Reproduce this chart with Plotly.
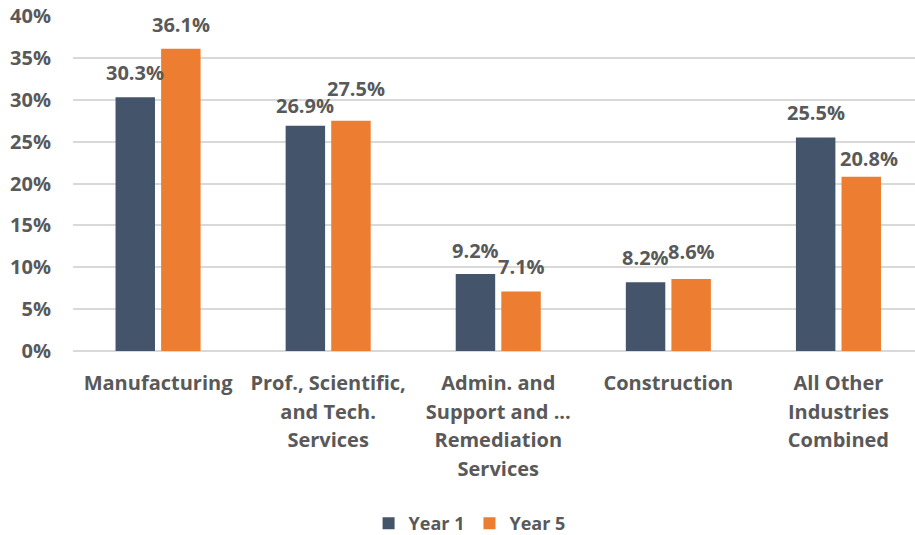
import plotly.graph_objects as go

categories = [
    "Manufacturing",
    "Prof., Scientific,<br>and Tech.<br>Services",
    "Admin. and<br>Support and ...<br>Remediation<br>Services",
    "Construction",
    "All Other<br>Industries<br>Combined",
]
year1 = [30.3, 26.9, 9.2, 8.2, 25.5]
year5 = [36.1, 27.5, 7.1, 8.6, 20.8]
y_ticks = [0, 5, 10, 15, 20, 25, 30, 35, 40]

# label nudges (pixels) mimicking the reference's label placement
label_dx1 = [0, 0, 0, 0, 0]
label_dx5 = [0, 5, 0, 0, 8]
label_gap1 = [17, 13, 16, 17, 17]
label_gap5 = [17, 25, 18, 20, 11]

FONT = "Open Sans"
GRAY = "#595959"
BLUE = "#44546A"
ORANGE = "#ED7D31"

BAR_W = 0.232
OFFSETS = [-0.25, 0.018]

xpos = list(range(len(categories)))


def styled(label, size):
    return "<br>".join(
        f'<span style="font-size:{size}px">{part}</span>' for part in label.split("<br>")
    )


fig = go.Figure()
series = [
    ("Year 1", year1, BLUE, OFFSETS[0], label_dx1, label_gap1),
    ("Year 5", year5, ORANGE, OFFSETS[1], label_dx5, label_gap5),
]
for name, vals, color, off, dxs, gaps in series:
    fig.add_trace(
        go.Bar(
            x=xpos,
            y=vals,
            name=name,
            width=BAR_W,
            offset=off,
            marker=dict(color=color, line=dict(width=0)),
        )
    )
    for xi, v, dx, gap in zip(xpos, vals, dxs, gaps):
        fig.add_annotation(
            x=xi + off + BAR_W / 2,
            y=v,
            xref="x",
            yref="y",
            text=f"{v:.1f}%",
            showarrow=False,
            xanchor="center",
            yanchor="bottom",
            xshift=dx,
            yshift=gap - 8,
            font=dict(family=FONT, size=20, color=GRAY, weight="bold"),
        )

fig.update_layout(
    width=915,
    height=535,
    margin=dict(l=73, r=0, t=16, b=184, autoexpand=False),
    paper_bgcolor="white",
    plot_bgcolor="white",
    barmode="overlay",
    hovermode=False,
    font=dict(family=FONT, color=GRAY, weight="bold"),
    showlegend=True,
    legend=dict(
        orientation="h",
        x=0.471,
        xanchor="center",
        y=-0.515,
        yanchor="middle",
        font=dict(family=FONT, size=18, color=GRAY, weight="bold"),
        itemwidth=30,
        traceorder="normal",
    ),
    xaxis=dict(
        range=[-0.5, 4.45],
        tickvals=xpos,
        ticktext=[styled(c, 20) for c in categories],
        tickfont=dict(family=FONT, size=22, color=GRAY, weight="bold"),
        showgrid=False,
        zeroline=False,
        showline=False,
        ticks="",
        ticklabelstandoff=16,
        automargin=False,
    ),
    yaxis=dict(
        range=[0, 40],
        tickvals=y_ticks,
        ticktext=[f"{t}%" for t in y_ticks],
        tickfont=dict(family=FONT, size=20, color=GRAY, weight="bold"),
        showgrid=True,
        gridcolor="#D9D9D9",
        gridwidth=1.5,
        zeroline=True,
        zerolinecolor="#D9D9D9",
        zerolinewidth=1.5,
        ticks="",
        ticklabelstandoff=21,
        automargin=False,
    ),
)

fig.write_html(
    "out.html",
    config={"displayModeBar": False},
    post_script="document.body.style.margin='0';",
)
